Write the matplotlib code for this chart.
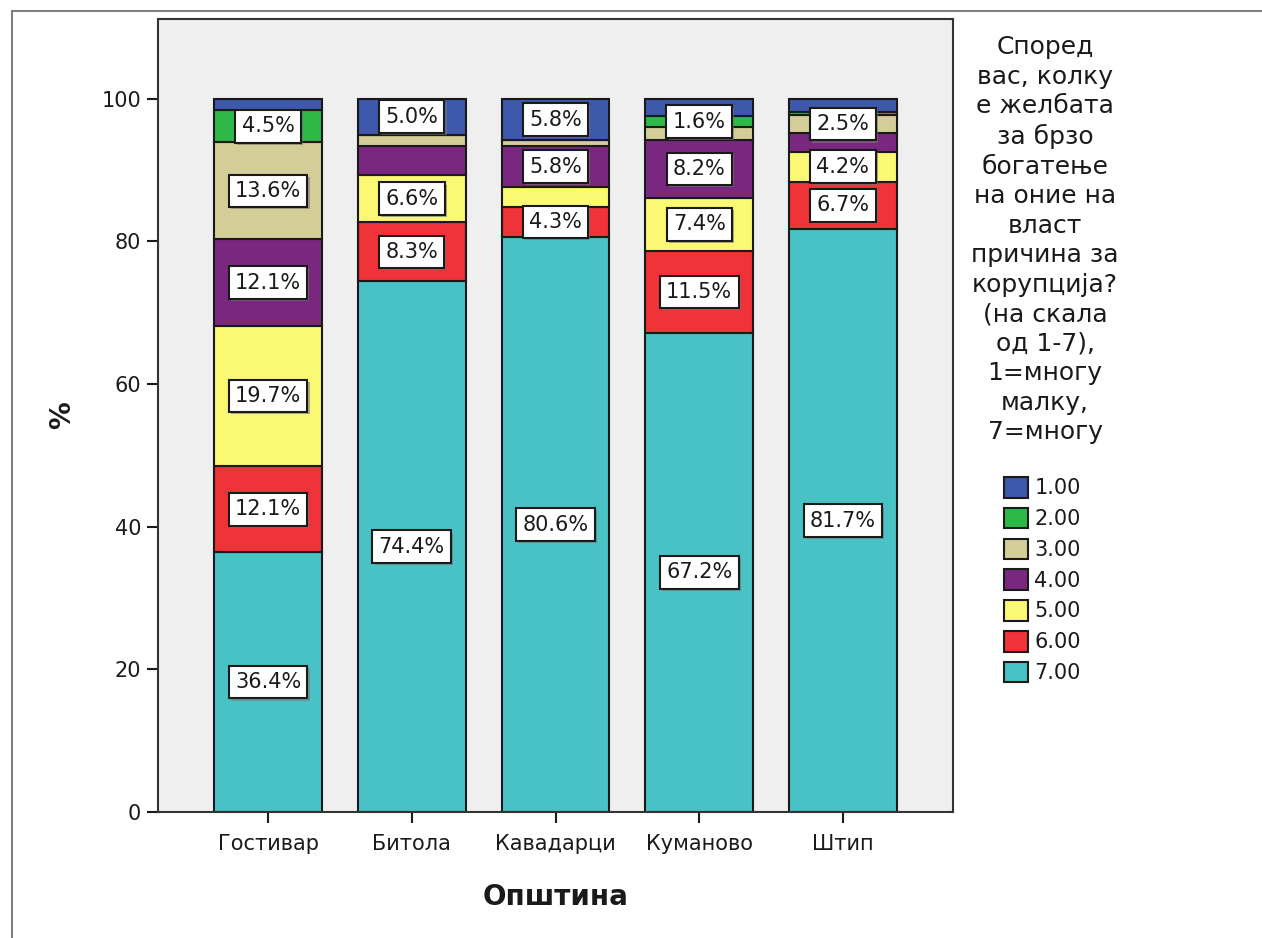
import numpy as np
import matplotlib
matplotlib.use("Agg")
import matplotlib.pyplot as plt
from matplotlib.patches import Rectangle, Patch
import matplotlib.patheffects as pe

plt.rcParams["font.family"] = ["DejaVu Sans"]

cities = ["Гостивар", "Битола", "Кавадарци", "Куманово", "Штип"]
levels = ["1.00", "2.00", "3.00", "4.00", "5.00", "6.00", "7.00"]
colors = ["#3E58AC", "#2EB848", "#D3CE97", "#7A287F", "#FBF873", "#EF3338", "#48C2C5"]

# percentages per level (rows) for each city (columns)
pct = {
    "1.00": [1.6, 5.0, 5.8, 2.4, 1.8],
    "2.00": [4.5, 0.0, 0.0, 1.6, 0.5],
    "3.00": [13.6, 1.6, 0.8, 1.7, 2.5],
    "4.00": [12.1, 4.1, 5.8, 8.2, 2.6],
    "5.00": [19.7, 6.6, 2.7, 7.4, 4.2],
    "6.00": [12.1, 8.3, 4.3, 11.5, 6.7],
    "7.00": [36.4, 74.4, 80.6, 67.2, 81.7],
}
# which segments carry a value label in the original
shown = {
    "1.00": [False, True, True, False, False],
    "2.00": [True, False, False, True, False],
    "3.00": [True, False, False, False, True],
    "4.00": [True, False, True, True, False],
    "5.00": [True, True, False, True, True],
    "6.00": [True, True, True, True, True],
    "7.00": [True, True, True, True, True],
}

legend_title = ("Според\nвас, колку\nе желбата\nза брзо\nбогатење\nна оние на\nвласт\n"
                "причина за\nкорупција?\n(на скала\nод 1-7),\n1=многу\nмалку,\n7=многу")

W, H = 1262, 938
fig = plt.figure(figsize=(W / 100, H / 100), dpi=100)
ax = fig.add_axes([158 / W, 1 - 812 / H, (953 - 158) / W, (812 - 19) / H])
ax.set_facecolor("#EFEFEF")

# outer frame
fig.patches.append(Rectangle((12 / W, -0.1), 1.2, 1 - 11 / H + 0.1, transform=fig.transFigure,
                             fill=False, edgecolor="#808080", linewidth=1.5, clip_on=False))

x = np.arange(len(cities))
bottom = np.zeros(len(cities))
for lev, col in zip(levels[::-1], colors[::-1]):
    vals = np.array(pct[lev])
    ax.bar(x, vals, width=0.75, bottom=bottom, color=col, edgecolor="#1a1a1a",
           linewidth=1.5, zorder=2)
    for i, v in enumerate(vals):
        if shown[lev][i]:
            t = ax.text(x[i], bottom[i] + v / 2, f"{v:.1f}%", ha="center", va="center",
                        fontsize=15, color="#1a1a1a", zorder=5,
                        bbox=dict(boxstyle="square,pad=0.3", fc="white", ec="#1a1a1a", lw=1.5))
            t.get_bbox_patch().set_path_effects(
                [pe.withSimplePatchShadow(offset=(1.5, -1.5), shadow_rgbFace="#777777", alpha=0.6)])
    bottom += vals

ax.set_xlim(-0.766, 4.766)
ax.set_ylim(0, 111.2)
ax.set_xticks(x)
ax.set_xticklabels(cities, fontsize=15)
ax.set_yticks([0, 20, 40, 60, 80, 100])
ax.tick_params(axis="both", direction="out", length=8, width=1.5, color="#1a1a1a",
               labelsize=15, labelcolor="#1a1a1a")
ax.tick_params(axis="x", pad=8)
ax.tick_params(axis="y", pad=4)
for s in ax.spines.values():
    s.set_linewidth(1.5)
    s.set_color("#333333")

ax.set_xlabel("Општина", fontsize=20, fontweight="bold", labelpad=21, color="#1a1a1a")
ax.set_ylabel("%", fontsize=20, fontweight="bold", labelpad=18, color="#1a1a1a")

fig.text(1045 / W, 1 - 35 / H, legend_title, ha="center", va="top", multialignment="center",
         fontsize=18, linespacing=1.29, color="#1a1a1a")

handles = [Patch(facecolor=c, edgecolor="#1a1a1a", linewidth=1.5) for c in colors]
fig.legend(handles, levels, loc="upper left", bbox_to_anchor=(1004 / W, 1 - 477 / H),
           frameon=False, fontsize=15, handlelength=1.15, handleheight=1.15,
           labelspacing=0.45, handletextpad=0.3, borderpad=0, borderaxespad=0,
           labelcolor="#1a1a1a")

fig.savefig("out.png", dpi=100)
